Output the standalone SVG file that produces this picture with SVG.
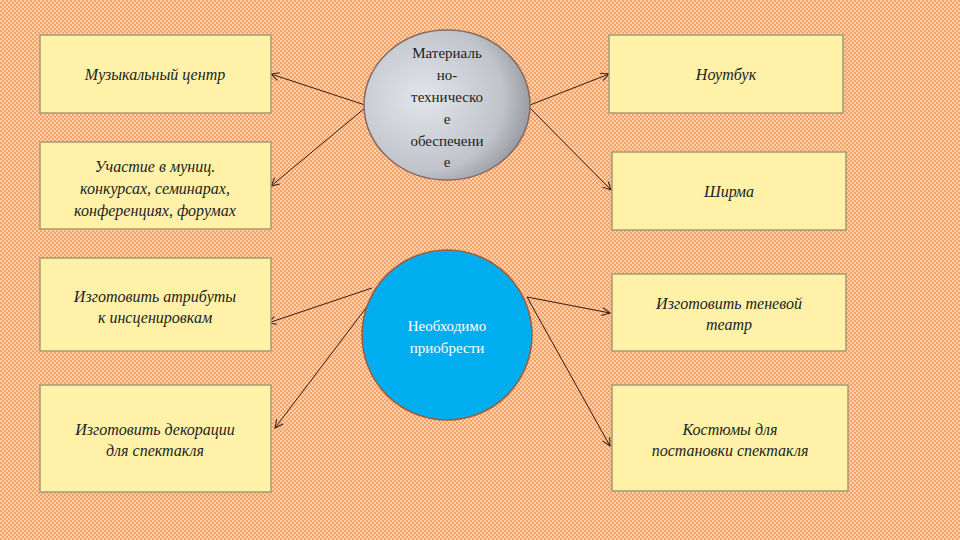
<svg xmlns="http://www.w3.org/2000/svg" width="960" height="540" viewBox="0 0 960 540">
<defs>
<pattern id="bg" width="4" height="4" patternUnits="userSpaceOnUse">
<rect width="4" height="4" fill="#f4a26a"/><rect width="2" height="2" fill="#f9d0a8"/><rect x="2" y="2" width="2" height="2" fill="#f9d0a8"/>
</pattern>
<radialGradient id="g1" cx="0.35" cy="0.45" r="0.7"><stop offset="0" stop-color="#e2e5ea"/><stop offset="0.7" stop-color="#c0c4ca"/><stop offset="1" stop-color="#8e9198"/></radialGradient>
<marker id="ar" markerWidth="10" markerHeight="10" refX="9" refY="5" orient="auto" markerUnits="userSpaceOnUse"><path d="M1,1 L9,5 L1,9" fill="none" stroke="#3a1a10" stroke-width="1"/></marker>
</defs>
<style>
.box{fill:#fff2a8;stroke:#a89a70;stroke-width:1.5}
.t{font-family:"Liberation Serif",serif;font-style:italic;font-size:16px;fill:#222;text-anchor:middle}
.c{font-family:"Liberation Serif",serif;font-size:15px;fill:#222;text-anchor:middle}
.ln{stroke:#3a1a10;stroke-width:1;marker-end:url(#ar);fill:none}
</style>
<rect width="960" height="540" fill="url(#bg)"/>
<g id="connectors">
<line class="ln" x1="365" y1="105" x2="271" y2="74"/>
<line class="ln" x1="365" y1="108" x2="271" y2="186"/>
<line class="ln" x1="530" y1="105" x2="609" y2="74"/>
<line class="ln" x1="530" y1="108" x2="611" y2="190"/>
<line class="ln" x1="372" y1="288" x2="268" y2="323"/>
<line class="ln" x1="372" y1="300" x2="275" y2="428"/>
<line class="ln" x1="527" y1="297" x2="610" y2="313"/>
<line class="ln" x1="527" y1="297" x2="610" y2="446"/>
</g>
<g id="c1"><ellipse cx="447" cy="105" rx="83" ry="75" fill="url(#g1)" stroke="#8a6a60" stroke-width="1.5"/>
<text class="c" x="447" y="58">Материаль</text><text class="c" x="447" y="80">но-</text><text class="c" x="447" y="102">техническо</text><text class="c" x="447" y="124">е</text><text class="c" x="447" y="146">обеспечени</text><text class="c" x="447" y="167">е</text></g>
<g id="c2"><circle cx="447" cy="335" r="85" fill="#00aeef" stroke="#a05a3a" stroke-width="1.5"/>
<text class="c" x="447" y="331" fill="#fff" style="fill:#fff">Необходимо</text><text class="c" x="447" y="353" style="fill:#fff">приобрести</text></g>
<g id="b1"><rect class="box" x="40" y="35" width="231" height="78"/><text class="t" x="155" y="80">Музыкальный центр</text></g>
<g id="b2"><rect class="box" x="40" y="142" width="231" height="87"/><text class="t" x="155" y="172">Участие в муниц.</text><text class="t" x="155" y="194">конкурсах, семинарах,</text><text class="t" x="155" y="216">конференциях, форумах</text></g>
<g id="b3"><rect class="box" x="40" y="258" width="231" height="93"/><text class="t" x="155" y="302">Изготовить атрибуты</text><text class="t" x="155" y="323">к инсценировкам</text></g>
<g id="b4"><rect class="box" x="40" y="385" width="231" height="107"/><text class="t" x="155" y="435">Изготовить декорации</text><text class="t" x="155" y="456">для спектакля</text></g>
<g id="b5"><rect class="box" x="609" y="35" width="234" height="78"/><text class="t" x="726" y="80">Ноутбук</text></g>
<g id="b6"><rect class="box" x="612" y="152" width="234" height="78"/><text class="t" x="729" y="197">Ширма</text></g>
<g id="b7"><rect class="box" x="612" y="274" width="234" height="77"/><text class="t" x="729" y="309">Изготовить теневой</text><text class="t" x="729" y="330">театр</text></g>
<g id="b8"><rect class="box" x="612" y="385" width="236" height="106"/><text class="t" x="730" y="435">Костюмы для</text><text class="t" x="730" y="456">постановки спектакля</text></g>
</svg>
